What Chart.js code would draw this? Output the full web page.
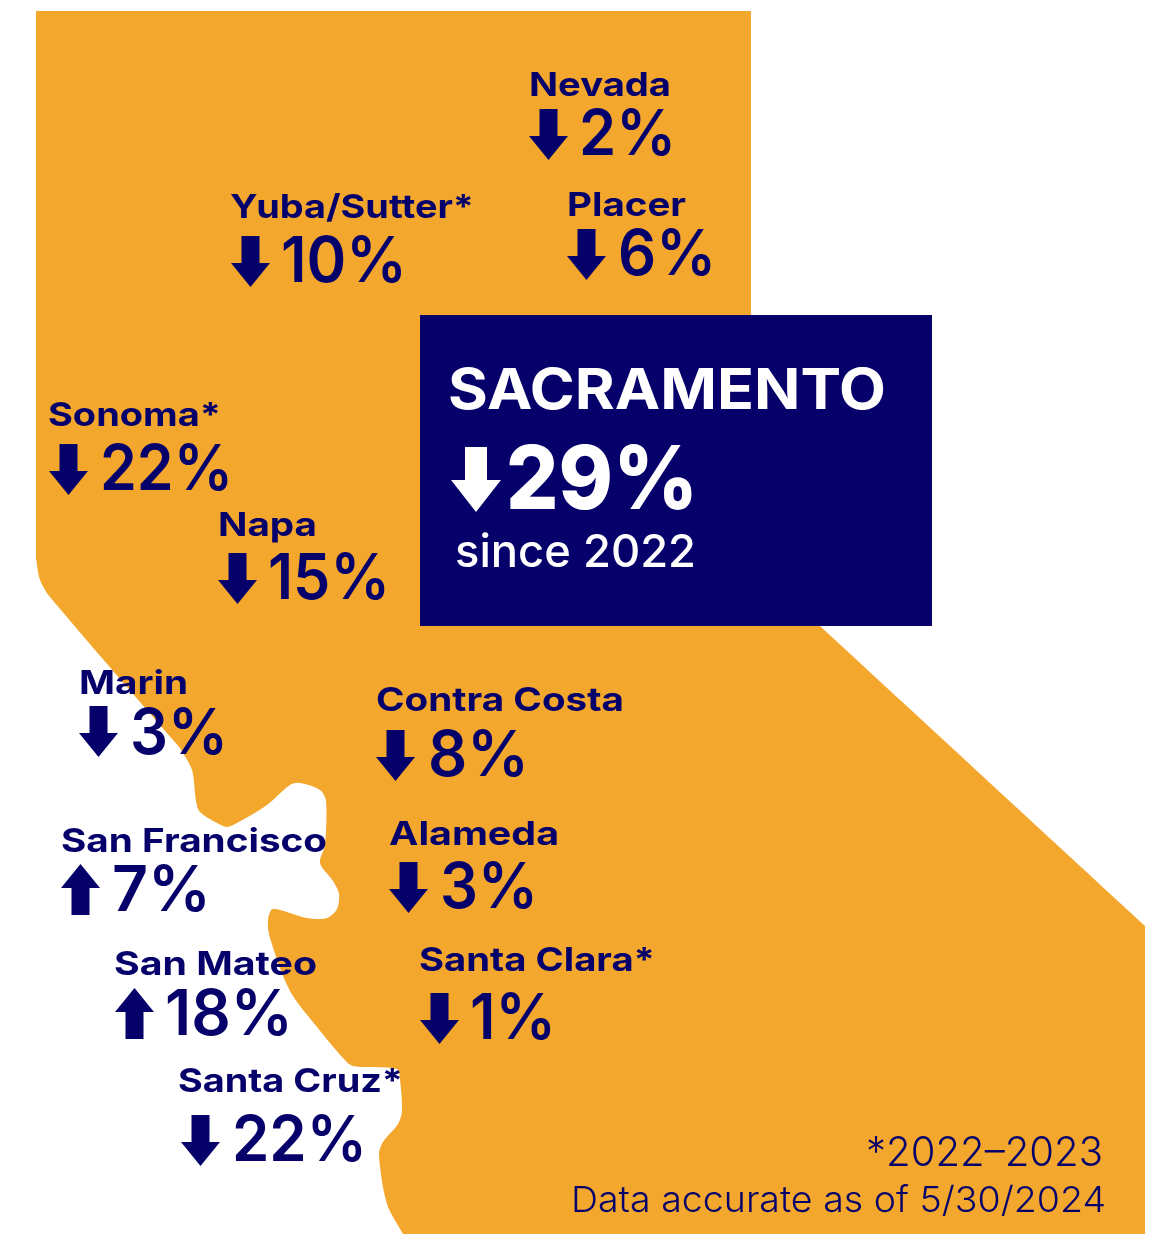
<!DOCTYPE html>
<html>
<head>
<meta charset="utf-8">
<title>Sacramento and neighbouring counties</title>
<script src="https://cdn.jsdelivr.net/npm/chart.js@4"></script>
<style>
  html, body { margin: 0; padding: 0; background: #fff; }
  canvas { display: block; }
</style>
</head>
<body>
<canvas id="mapChart" width="1161" height="1234"></canvas>
<script>
// values
const counties = ['Nevada', 'Yuba/Sutter*', 'Placer', 'Sonoma*', 'Napa', 'Marin', 'Contra Costa', 'San Francisco', 'Alameda', 'San Mateo', 'Santa Clara*', 'Santa Cruz*'];
const changes = [-2, -10, -6, -22, -15, -3, -8, 7, -3, 18, -1, -22];
const mainName = 'SACRAMENTO';
const mainChange = -29;
const mainNote = 'since 2022';
const footNotes = ['*2022\u20132023', 'Data accurate as of 5/30/2024'];

// where each county block sits on the map
const nameX = [529, 230, 567, 48, 218, 79, 376, 61, 389, 114, 419, 178];
const nameY = [96, 218, 216, 426, 536, 694, 711, 852, 845, 975, 971, 1092];
const nameW = [142, 244, 119, 173, 99, 109, 248, 266, 170, 203, 236, 225];
const arrowX = [548.5, 250.5, 586.5, 68.5, 237.5, 98.5, 395.5, 80.5, 408.5, 134.5, 439.5, 200.5];
const arrowY = [134.5, 261.5, 254.5, 469.5, 578.5, 731.5, 755.5, 889.5, 887.5, 1013.5, 1018.5, 1140.5];
const valueX = [579, 281, 618, 100, 268, 130, 428, 112, 440, 165, 470, 232];
const valueY = [155, 282, 275, 490, 599, 754, 776, 911, 908, 1035, 1039, 1161];
const valueW = [97, 126, 98, 133, 122, 98, 101, 99, 98, 128, 86, 135];

// outline of the state, repeated points keep the corners sharp
const mapX = [36, 36, 751, 751, 751, 751, 820, 820, 1145, 1145, 1145, 1145, 403, 403, 387, 379, 383, 398, 402, 400, 397, 353, 343, 317, 290, 270, 268, 273, 307, 327, 337, 339, 333, 320, 325, 326, 320, 300, 290, 267, 237, 227, 217, 200, 196, 192, 180, 180, 50, 40, 36, 36];
const mapY = [11, 11, 11, 11, 315, 315, 626, 626, 926, 926, 1234, 1234, 1234, 1234, 1204, 1155, 1142, 1124, 1111, 1080, 1069, 1066, 1058, 1027, 991, 938, 920, 909, 918, 918, 909, 894, 881, 863, 845, 801, 790, 783, 785, 805, 823, 827, 823, 812, 801, 770, 748, 748, 597, 580, 558, 558];
const boxX = [420, 932, 932, 420];
const boxY = [315, 315, 626, 626];

const ORANGE = '#F4A72D';
const NAVY = '#06006B';
const FONT = 'Inter, "Open Sans", sans-serif';

function toPoints(xs, ys) {
    return xs.map((x, i) => ({ x: x, y: ys[i] }));
}

function makeArrow(w, h, shaft, headTop, up, color) {
    const c = document.createElement('canvas');
    c.width = w;
    c.height = h;
    const g = c.getContext('2d');
    if (up) {
        g.translate(0, h);
        g.scale(1, -1);
    }
    g.fillStyle = color;
    g.beginPath();
    g.moveTo((w - shaft) / 2, 0);
    g.lineTo((w + shaft) / 2, 0);
    g.lineTo((w + shaft) / 2, headTop);
    g.lineTo(w, headTop);
    g.lineTo(w / 2, h);
    g.lineTo(0, headTop);
    g.lineTo((w - shaft) / 2, headTop);
    g.closePath();
    g.fill();
    return c;
}

const arrowDown = makeArrow(39, 51, 18, 27, false, NAVY);
const arrowUp = makeArrow(39, 51, 18, 27, true, NAVY);
const arrowMain = makeArrow(50, 65, 22, 33, false, '#fff');

// draws text stretched to the width it has in the picture
function fitText(ctx, text, x, y, font, width, color) {
    ctx.save();
    ctx.font = font;
    ctx.fillStyle = color;
    ctx.textBaseline = 'alphabetic';
    const sx = width / ctx.measureText(text).width;
    ctx.translate(x, y);
    ctx.scale(sx, 1);
    ctx.fillText(text, 0, 0);
    ctx.restore();
}

const labelPlugin = {
    id: 'labels',
    afterDatasetsDraw(chart) {
        const ctx = chart.ctx;
        const px = v => chart.scales.x.getPixelForValue(v);
        const py = v => chart.scales.y.getPixelForValue(v);

        counties.forEach((name, i) => {
            fitText(ctx, name, px(nameX[i]), py(nameY[i]), '700 33px ' + FONT, nameW[i], NAVY);
            fitText(ctx, Math.abs(changes[i]) + '%', px(valueX[i]), py(valueY[i]), '600 63px ' + FONT, valueW[i], NAVY);
        });

        fitText(ctx, mainName, px(448), py(409), '700 56px ' + FONT, 438, '#fff');
        fitText(ctx, Math.abs(mainChange) + '%', px(506), py(509), '800 88px ' + FONT, 192, '#fff');
        fitText(ctx, mainNote, px(455), py(567), '500 45px ' + FONT, 241, '#fff');
        fitText(ctx, footNotes[0], px(866), py(1166), '300 41px ' + FONT, 237, NAVY);
        fitText(ctx, footNotes[1], px(571), py(1212), '300 36px ' + FONT, 535, NAVY);
    }
};

new Chart(document.getElementById('mapChart'), {
    type: 'scatter',
    data: {
        datasets: [
            {
                label: 'Counties',
                data: toPoints(arrowX, arrowY),
                order: 0,
                pointRadius: 1,
                pointStyle: c => (changes[c.dataIndex] < 0 ? arrowDown : arrowUp)
            },
            {
                label: mainName,
                data: [{ x: 476, y: 479.5 }],
                order: 0,
                pointRadius: 1,
                pointStyle: arrowMain
            },
            {
                label: 'Box',
                data: toPoints(boxX, boxY),
                order: 1,
                showLine: true,
                fill: 'shape',
                backgroundColor: NAVY,
                borderWidth: 0,
                pointRadius: 0
            },
            {
                label: 'Map',
                data: toPoints(mapX, mapY),
                order: 2,
                showLine: true,
                fill: 'shape',
                tension: 0.3,
                backgroundColor: ORANGE,
                borderWidth: 0,
                pointRadius: 0
            }
        ]
    },
    options: {
        responsive: false,
        animation: false,
        events: [],
        layout: { padding: 0, autoPadding: false },
        plugins: {
            legend: { display: false },
            tooltip: { enabled: false }
        },
        scales: {
            x: { type: 'linear', display: false, min: 0, max: 1161 },
            y: { type: 'linear', display: false, min: 0, max: 1234, reverse: true }
        }
    },
    plugins: [labelPlugin]
});
</script>
</body>
</html>
